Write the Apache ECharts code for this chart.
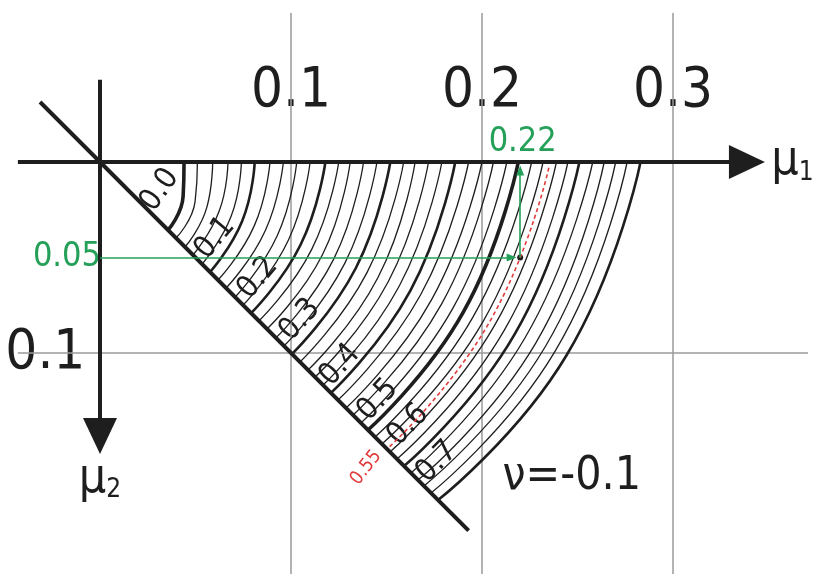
<!DOCTYPE html>
<html>
<head>
<meta charset="utf-8">
<script src="https://cdn.jsdelivr.net/npm/echarts@6/dist/echarts.min.js"></script>
<style>
  html, body { margin: 0; padding: 0; background: #fff; }
  #chart { width: 818px; height: 574px; }
</style>
</head>
<body>
<div id="chart"></div>
<script>
// contour levels, step 0.02
var levels = [0.00, 0.02, 0.04, 0.06, 0.08, 0.10, 0.12, 0.14, 0.16, 0.18,
              0.20, 0.22, 0.24, 0.26, 0.28, 0.30, 0.32, 0.34, 0.36, 0.38,
              0.40, 0.42, 0.44, 0.46, 0.48, 0.50, 0.52, 0.54, 0.56, 0.58,
              0.60, 0.62, 0.64, 0.66, 0.68, 0.70];
// mu1 where each curve meets the mu1 axis (mu2 = 0)
var topMu1 = [0.044, 0.051, 0.059, 0.067, 0.074, 0.081, 0.089, 0.096, 0.103, 0.110,
              0.118, 0.125, 0.131, 0.138, 0.145, 0.152, 0.159, 0.165, 0.172, 0.179,
              0.186, 0.193, 0.200, 0.206, 0.213, 0.219, 0.226, 0.232, 0.239, 0.245,
              0.251, 0.258, 0.264, 0.270, 0.276, 0.283];
// distance from origin where each curve crosses the 22.5 deg ray
var midRadius = [0.0471, 0.0539, 0.0607, 0.0675, 0.0743, 0.0806, 0.0874, 0.0937, 0.1005, 0.1068,
                 0.1136, 0.1199, 0.1262, 0.1325, 0.1387, 0.1450, 0.1513, 0.1576, 0.1634, 0.1696,
                 0.1759, 0.1817, 0.1880, 0.1937, 0.2000, 0.2058, 0.2115, 0.2173, 0.2236, 0.2293,
                 0.2351, 0.2408, 0.2471, 0.2524, 0.2581, 0.2644];
// mu1 = mu2 where each curve ends on the diagonal
var diagMu = [0.0356, 0.0398, 0.0445, 0.0487, 0.0534, 0.0576, 0.0618, 0.0660, 0.0707, 0.0749,
              0.0791, 0.0832, 0.0874, 0.0921, 0.0963, 0.1005, 0.1047, 0.1089, 0.1126, 0.1168,
              0.1209, 0.1246, 0.1288, 0.1325, 0.1366, 0.1403, 0.1440, 0.1476, 0.1518, 0.1555,
              0.1592, 0.1628, 0.1665, 0.1696, 0.1733, 0.1770];

// red dashed 0.55 curve
var redTop = 0.235, redMid = 0.2204, redDiag = 0.1503;
// green reading example
var examplePoint = [0.22, 0.05];

// level labels along the diagonal
var labelText = ['0.0', '0.1', '0.2', '0.3', '0.4', '0.5', '0.6', '0.7'];
var labelMu1 = [0.0314, 0.0602, 0.0827, 0.1047, 0.1257, 0.1455, 0.1613, 0.1764];
var labelMu2 = [0.0147, 0.0398, 0.0607, 0.0827, 0.1063, 0.1246, 0.1377, 0.1571];
var labelAngle = [55, 50, 50, 48, 48, 47, 46, 45];

// grid ticks
var gridTicks = [0.1, 0.2, 0.3];
var mu2Ticks = [0.1];

var FONT = '"DejaVu Sans Condensed", "DejaVu Sans", sans-serif';
var INK = '#1e1e1e';
var GREEN = '#24a058';
var RED = '#e23b3b';
var c22 = Math.cos(Math.PI / 8), s22 = Math.sin(Math.PI / 8);

var myChart = echarts.init(document.getElementById('chart'));
var series = [];

// grid lines
gridTicks.forEach(function (t) {
    series.push({
        type: 'line', silent: true, clip: false, symbol: 'none',
        lineStyle: { color: '#9a9a9a', width: 1.5 },
        data: [[t, -0.078], [t, 0.22]]
    });
});
mu2Ticks.forEach(function (t) {
    series.push({
        type: 'line', silent: true, clip: false, symbol: 'none',
        lineStyle: { color: '#9a9a9a', width: 1.5 },
        data: [[-0.043, t], [0.38, t]]
    });
});

// contour curves
levels.forEach(function (lv, i) {
    var tenth = Math.abs(lv * 10 - Math.round(lv * 10)) < 1e-6;
    var w = 1.3;
    if (tenth) w = 2.6;
    if (lv === 0 || lv === 0.5) w = 3.6;
    series.push({
        type: 'line', silent: true, symbol: 'none', smooth: true, clip: false,
        lineStyle: { color: INK, width: w },
        data: [[topMu1[i], 0], [midRadius[i] * c22, midRadius[i] * s22], [diagMu[i], diagMu[i]]]
    });
});

// red dashed 0.55
series.push({
    type: 'line', silent: true, symbol: 'none', smooth: true, clip: false,
    lineStyle: { color: RED, width: 1.6, type: [4, 3] },
    data: [[redTop, 0.003], [redMid * c22, redMid * s22], [redDiag, redDiag]]
});

// diagonal
series.push({
    type: 'line', silent: true, symbol: 'none', clip: false,
    lineStyle: { color: INK, width: 4 },
    data: [[-0.0314, -0.0314], [0.193, 0.193]]
});

// axes with arrow heads
series.push({
    type: 'line', silent: true, data: [],
    markLine: {
        silent: true, animation: false,
        label: { show: false },
        symbol: ['none', 'triangle'],
        symbolSize: [34, 36],
        lineStyle: { color: INK, width: 4, type: 'solid' },
        data: [
            [{ coord: [-0.043, 0] }, { coord: [0.3387, 0] }],
            [{ coord: [0, -0.043] }, { coord: [0, 0.1435] }]
        ]
    }
});

// green reading arrows
series.push({
    type: 'line', silent: true, data: [],
    markLine: {
        silent: true, animation: false,
        label: { show: false },
        symbol: ['none', 'triangle'],
        symbolSize: [8, 10],
        lineStyle: { color: GREEN, width: 1.6, type: 'solid' },
        data: [
            [{ coord: [0, examplePoint[1]] }, { coord: [examplePoint[0] - 0.0045, examplePoint[1]] }],
            [{ coord: [examplePoint[0], examplePoint[1]] }, { coord: [examplePoint[0], 0.0045] }]
        ]
    }
});

// black dot at the example point
series.push({
    type: 'scatter', silent: true, symbolSize: 6,
    itemStyle: { color: INK, opacity: 1 },
    data: [examplePoint]
});

// level labels
series.push({
    type: 'scatter', silent: true, symbolSize: 0,
    itemStyle: { opacity: 1 },
    data: labelText.map(function (t, i) {
        return {
            value: [labelMu1[i], labelMu2[i]],
            label: { show: true, position: 'inside', formatter: t, rotate: labelAngle[i],
                     fontFamily: FONT, fontSize: 31, color: INK }
        };
    })
});

// tick labels
series.push({
    type: 'scatter', silent: true, symbolSize: 0,
    itemStyle: { opacity: 1 },
    data: gridTicks.map(function (t) {
        return {
            value: [t, -0.037],
            label: { show: true, position: 'inside', formatter: t.toFixed(1),
                     fontFamily: FONT, fontSize: 56, color: INK }
        };
    }).concat(mu2Ticks.map(function (t) {
        return {
            value: [-0.0286, t],
            label: { show: true, position: 'inside', formatter: t.toFixed(1),
                     fontFamily: FONT, fontSize: 56, color: INK }
        };
    }))
});

// other texts
var subRich = {
    m: { fontFamily: FONT, fontSize: 48, color: INK },
    s: { fontFamily: FONT, fontSize: 26, color: INK, padding: [22, 0, 0, 0] }
};
series.push({
    type: 'scatter', silent: true, symbolSize: 0,
    itemStyle: { opacity: 1 },
    data: [
        { value: [0.3625, 0.0], label: { show: true, position: 'inside', formatter: '{m|μ}{s|1}', rich: subRich } },
        { value: [0.0, 0.166], label: { show: true, position: 'inside', formatter: '{m|μ}{s|2}', rich: subRich } },
        { value: [0.247, 0.165], label: { show: true, position: 'inside', formatter: 'ν=-0.1',
            fontFamily: FONT, fontSize: 46, color: INK } },
        { value: [examplePoint[0] + 0.0013, -0.0105], label: { show: true, position: 'inside', formatter: examplePoint[0].toFixed(2),
            fontFamily: FONT, fontSize: 34, color: GREEN } },
        { value: [-0.0173, examplePoint[1]], label: { show: true, position: 'inside', formatter: examplePoint[1].toFixed(2),
            fontFamily: FONT, fontSize: 34, color: GREEN } },
        { value: [0.1393, 0.16], label: { show: true, position: 'inside', formatter: '0.55', rotate: 52,
            fontFamily: FONT, fontSize: 19, color: RED } }
    ]
});

var option = {
    animation: false,
    backgroundColor: '#fff',
    grid: { left: 4.5, right: 11.3, top: 9.2, bottom: 10.9 },
    xAxis: { type: 'value', min: -0.05, max: 0.37, show: false },
    yAxis: { type: 'value', min: -0.08, max: 0.21, inverse: true, show: false },
    series: series
};
myChart.setOption(option);
</script>
</body>
</html>
